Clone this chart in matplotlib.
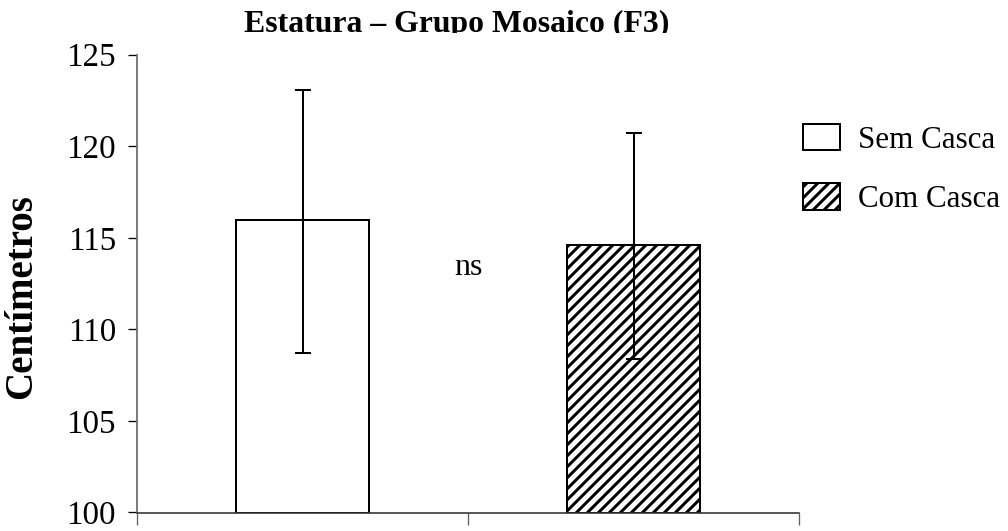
import matplotlib
matplotlib.use("Agg")
import matplotlib.pyplot as plt
from matplotlib.transforms import Bbox, TransformedBbox

DPI = 66
def px(v):
    return v * 72.0 / DPI

plt.rcParams['font.family'] = ['Liberation Serif', 'DejaVu Serif']
plt.rcParams['hatch.linewidth'] = px(3.0)

categories = ["Sem Casca", "Com Casca"]
means = [116.0, 114.6]
err_low = [7.3, 6.2]
err_high = [7.05, 6.1]
hatches = ["", "//"]
yticks = [100, 105, 110, 115, 120, 125]
title = "Estatura \u2013 Grupo Mosaico (F3)"
ylabel = "Centímetros"
annot = "ns"

W, H = 1008, 531
fig = plt.figure(figsize=(W / DPI, H / DPI), dpi=DPI)
ax = fig.add_axes([137 / W, (H - 512.5) / H, 662 / W, (512.5 - 54.7) / H])

xs = list(range(len(categories)))
handles = []
for x, m, lo, hi, h, lab in zip(xs, means, err_low, err_high, hatches, categories):
    b = ax.bar(x, m - 100, bottom=100, width=0.40, facecolor='white',
               edgecolor='black', linewidth=px(2.0), hatch=h, label=lab, zorder=2)
    handles.append(b)
    ax.errorbar(x, m, yerr=[[lo], [hi]], fmt='none', ecolor='black',
                elinewidth=px(2.0), capsize=px(8), capthick=px(2.0), zorder=3)

ax.set_xlim(-0.5, 1.5)
ax.set_ylim(100, 125)
ax.set_yticks(yticks)
ax.set_yticklabels([str(t) for t in yticks], fontsize=px(33))
ax.set_xticks([-0.5, 0.5, 1.5])
ax.set_xticklabels([])
ax.tick_params(axis='y', direction='out', length=px(9), width=px(1.3), color='black', pad=px(12))
ax.tick_params(axis='x', direction='out', length=px(12), width=px(1.3), color='#606060')
for s in ['top', 'right']:
    ax.spines[s].set_visible(False)
ax.spines['left'].set_color('#707070')
ax.spines['left'].set_linewidth(px(1.8))
ax.spines['bottom'].set_color('#303030')
ax.spines['bottom'].set_linewidth(px(1.6))

ax.text(0.5, 113.4, annot, ha='center', va='center', fontsize=px(32))

fig.text(22 / W, 1 - 297 / H, ylabel, rotation=90, ha='center', va='center',
         fontsize=px(39), fontweight='bold')

t = fig.text(457 / W, 1 - 32 / H, title, ha='center', va='baseline',
             fontsize=px(31.8), fontweight='bold')
t.set_clip_box(TransformedBbox(Bbox([[0, 1 - 33 / H], [1, 1]]), fig.transFigure))
t.set_clip_on(True)

leg = fig.legend(handles=handles, labels=categories, loc='upper left',
                 bbox_to_anchor=(803 / W, 1 - 124 / H), frameon=False,
                 fontsize=px(31), handlelength=37 / 31, handleheight=29 / 31,
                 handletextpad=18 / 31, labelspacing=0.92, borderaxespad=0,
                 borderpad=0)

fig.savefig("out.png", dpi=DPI)
